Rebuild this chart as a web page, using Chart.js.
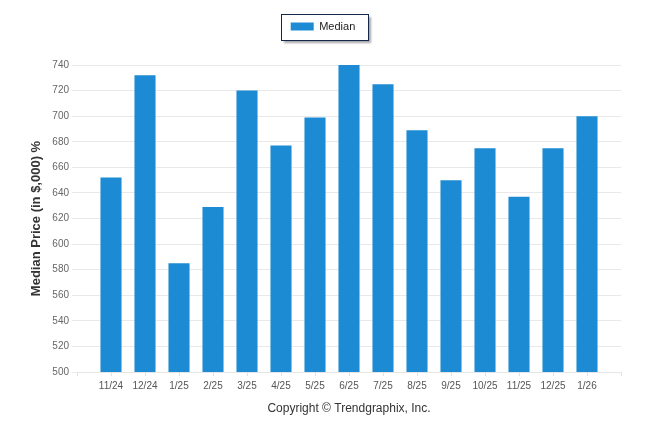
<!DOCTYPE html>
<html>
<head>
<meta charset="utf-8">
<script src="https://cdn.jsdelivr.net/npm/chart.js@4.4.1/dist/chart.umd.min.js"></script>
<style>
    html, body { margin: 0; padding: 0; background: #fff; }
</style>
</head>
<body>
<canvas id="medianChart" width="646" height="434"></canvas>
<script>
// Data
var months = ['11/24', '12/24', '1/25', '2/25', '3/25', '4/25', '5/25', '6/25',
              '7/25', '8/25', '9/25', '10/25', '11/25', '12/25', '1/26'];
var medianPrices = [652, 732, 585, 629, 720, 677, 699, 740, 725, 689, 650, 675, 637, 675, 700];
var priceMin = 500;
var priceMax = 740;
var priceStep = 20;

var FONT = "'Liberation Sans', Arial, sans-serif";

// white box with a dark border and soft shadow behind the legend
var legendFrame = {
    id: 'legendFrame',
    beforeInit: function (chart) {
        var fit = chart.legend.fit;
        chart.legend.fit = function () {
            fit.bind(chart.legend)();
            this.height += 23;
        };
    },
    beforeDraw: function (chart) {
        var hb = chart.legend.legendHitBoxes && chart.legend.legendHitBoxes[0];
        if (!hb) return;
        var ctx = chart.ctx;
        var cy = hb.top + hb.height / 2;
        var x = Math.round(hb.left - 10) + 0.5, y = Math.round(cy - 13) + 0.5;
        var w = Math.round(hb.width + 22), h = 26;
        ctx.save();
        ctx.shadowColor = 'rgba(0,0,0,0.35)';
        ctx.shadowOffsetX = 2;
        ctx.shadowOffsetY = 2;
        ctx.shadowBlur = 2;
        ctx.fillStyle = '#fff';
        ctx.fillRect(x, y, w, h);
        ctx.restore();
        ctx.save();
        ctx.strokeStyle = '#14284b';
        ctx.lineWidth = 1;
        ctx.strokeRect(x, y, w, h);
        ctx.restore();
    }
};

var ctx = document.getElementById('medianChart').getContext('2d');
var medianChart = new Chart(ctx, {
    type: 'bar',
    data: {
        datasets: [{
            label: 'Median',
            data: medianPrices.map(function (v, i) { return { x: i, y: v }; }),
            backgroundColor: '#1d8bd3',
            borderWidth: 0,
            barPercentage: 0.62,
            categoryPercentage: 1
        }]
    },
    options: {
        responsive: false,
        animation: false,
        layout: { padding: { top: 11, left: 25, right: 25, bottom: 14 } },
        plugins: {
            legend: {
                position: 'top',
                labels: {
                    boxWidth: 23,
                    boxHeight: 8,
                    padding: 10,
                    color: '#222',
                    font: { family: FONT, size: 11 }
                }
            },
            tooltip: { enabled: false }
        },
        scales: {
            x: {
                type: 'linear',
                min: -1,
                max: months.length,
                offset: false,
                afterFit: function (scale) { scale.height = 48; },
                afterBuildTicks: function (scale) {
                    scale.ticks = [];
                    for (var i = -1; i <= months.length; i++) scale.ticks.push({ value: i });
                },
                ticks: {
                    autoSkip: false,
                    maxRotation: 0,
                    padding: 4,
                    color: '#555',
                    font: { family: FONT, size: 10 },
                    callback: function (v) { return months[v] !== undefined ? months[v] : ''; }
                },
                grid: {
                    offset: false,
                    drawOnChartArea: false,
                    tickLength: 4,
                    color: '#e0e0e0'
                },
                border: { color: '#e6e6e6' },
                title: {
                    display: true,
                    text: 'Copyright \u00a9 Trendgraphix, Inc.',
                    color: '#333',
                    font: { family: FONT, size: 12 },
                    padding: { top: 4, bottom: 4 }
                }
            },
            y: {
                min: priceMin,
                max: priceMax,
                afterFit: function (scale) { scale.width = 52; },
                ticks: {
                    stepSize: priceStep,
                    padding: 3,
                    color: '#666',
                    font: { family: FONT, size: 10 }
                },
                grid: {
                    color: '#e9e9e9',
                    tickLength: 5
                },
                border: { display: false },
                title: {
                    display: true,
                    text: 'Median Price (in $,000) %',
                    color: '#333',
                    font: { family: FONT, size: 13, weight: 'bold' },
                    padding: { top: 4, bottom: 4 }
                }
            }
        }
    },
    plugins: [legendFrame]
});
</script>
</body>
</html>
